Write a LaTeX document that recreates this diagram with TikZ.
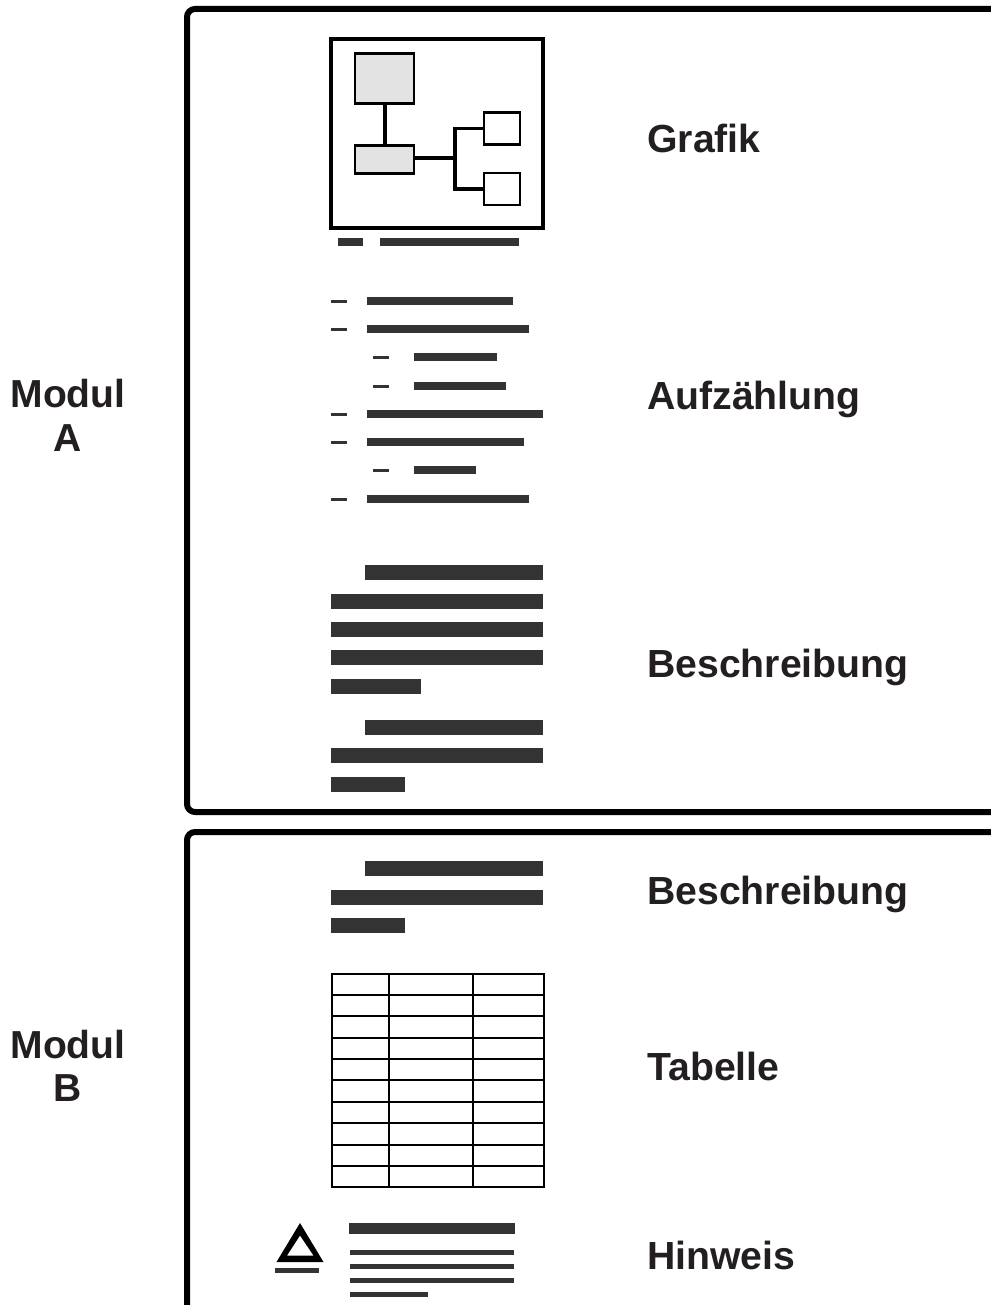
\documentclass[tikz,border=0pt]{standalone}
\usepackage{fontspec}
\setmainfont{Liberation Sans}
\usetikzlibrary{positioning}
\definecolor{bardark}{HTML}{333333}
\definecolor{labelink}{HTML}{231F20}
\definecolor{boxgrey}{HTML}{E3E3E3}
\tikzset{label text/.style={text=labelink, font=\fontsize{29.4pt}{35pt}\selectfont\bfseries, inner sep=0pt, anchor=base west},
         modul text/.style={text=labelink, font=\fontsize{29.3pt}{35pt}\selectfont\bfseries, inner sep=0pt, anchor=base},
         modul frame/.style={line width=4.5pt, rounded corners=6pt},
         textbar/.style={fill=bardark, draw=none},
         grey box/.style={draw, line width=1.6pt, fill=boxgrey, inner sep=0pt},
         white box/.style={draw, line width=1.6pt, fill=white, inner sep=0pt},
         tree line/.style={line width=2.6pt}}

\begin{document}
\begin{tikzpicture}[x=0.75pt, y=-0.75pt]
        \useasboundingbox (0,0) rectangle (991,1305);
        
        % Module frames
        \draw[modul frame] (1000,9) -- (187,9) -- (187,812) -- (1000,812);
        \draw[modul frame] (1000,832) -- (187,832) -- (187,1320);
        
        \node[modul text] (modulA) at (68,407.5) {Modul};
        \node[modul text] (modulAb) at (68,451.5) {A};
        \node[modul text] (modulB) at (68,1058) {Modul};
        \node[modul text] (modulBb) at (68,1101.5) {B};
        
        \node[label text] (grafik) at (647,153) {Grafik};
        \node[label text] (aufz) at (647,409.5) {Aufzählung};
        \node[label text] (beschrA) at (647,677.5) {Beschreibung};
        \node[label text] (beschrB) at (647,904.5) {Beschreibung};
        \node[label text] (tabelle) at (647,1080.5) {Tabelle};
        \node[label text] (hinweis) at (647,1269.5) {Hinweis};
        
        % Graphic
        \draw[line width=2.7pt] (331,39) rectangle (543,228);
        \node[grey box, minimum width=44pt, minimum height=37.5pt] (boxtop) at (384.5,78.5) {};
        \node[grey box, minimum width=44pt, minimum height=21pt] (boxlow) at (384.5,159.5) {};
        \node[white box, minimum width=27.5pt, minimum height=24pt] (leafup) at (502,128.5) {};
        \node[white box, minimum width=27.5pt, minimum height=24pt] (leafdown) at (502,189) {};
        \coordinate (fork) at (455,158);
        \draw[line width=3pt] (boxtop) -- (boxlow);
        \draw[line width=2.3pt] (boxlow.east |- fork) -- (fork);
        \draw[tree line] (leafup) -| (fork) |- (leafdown);
        
        \fill[textbar] (338,238) rectangle (363,246);
        \fill[textbar] (380,238) rectangle (519,246);
        
        % List
        \foreach \y/\xa/\xb/\xc/\xd in {301/331/347/367/513, 329/331/347/367/529, 357/373/389/414/497,
                 386/373/389/414/506, 414/331/347/367/543, 442/331/347/367/524,
                 470/373/389/414/476, 499/331/347/367/529}
            {
            \fill[textbar] (\xa,\y-1.5) rectangle (\xb,\y+1.5);
            \fill[textbar] (\xc,\y-4) rectangle (\xd,\y+4);
            }
        
        % Description A
        \foreach \xa/\xb/\ya in {365/543/565, 331/543/594, 331/543/622, 331/543/650, 331/421/679,
                 365/543/720, 331/543/748, 331/405/777}
            \fill[textbar] (\xa,\ya) rectangle (\xb,\ya+14.5);
        
        % Description B
        \foreach \xa/\xb/\ya in {365/543/861, 331/543/890, 331/405/918}
            \fill[textbar] (\xa,\ya) rectangle (\xb,\ya+14.5);
        
        % Table
        \draw[line width=1.5pt] (332,974) rectangle (543.5,1186.5);
        \foreach \y in {995,1016,1038,1059,1080,1102,1123,1145,1166}
            \draw[line width=1.1pt] (332,\y) -- (543.5,\y);
        \draw[line width=1.5pt] (389,974) -- (389,1186.5);
        \draw[line width=1.5pt] (473,974) -- (473,1186.5);
        
        % Note
        \fill[even odd rule] (300,1223) -- (323.5,1262) -- (276.5,1262) -- cycle
              (300,1235.5) -- (313.5,1255.5) -- (287,1255.5) -- cycle;
        \fill[textbar] (275,1267.5) rectangle (319,1273);
        \fill[textbar] (349,1223) rectangle (515,1234);
        \foreach \xb/\ya in {514/1249.5, 514/1263.5, 514/1277.5, 428/1291.5}
            \fill[textbar] (350,\ya) rectangle (\xb,\ya+5);
        
    \end{tikzpicture}
\end{document}
